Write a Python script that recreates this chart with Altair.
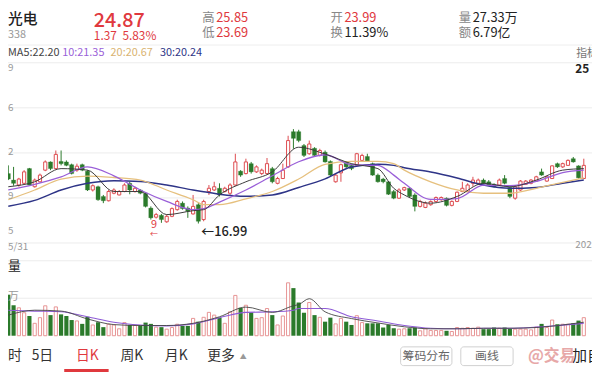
import altair as alt
import pandas as pd

FONT = "Noto Sans CJK SC"
RED = "#e0393e"
CANDLE_RED = "#dd4b4f"
GREEN = "#2b7a2b"
VOL_RED = "#e79393"

open_ = [19.91,19.53,19.24,19.34,20.20,19.14,19.43,20.11,20.59,20.20,
         20.62,20.59,20.43,20.11,20.43,20.05,18.95,19.14,18.57,18.32,
         18.76,18.66,18.86,19.34,18.86,18.95,18.76,17.89,17.36,17.47,
         17.09,17.41,17.80,18.18,17.89,17.55,18.09,17.22,18.86,18.95,
         19.05,18.86,18.76,19.24,20.05,19.91,20.49,20.01,19.91,19.91,
         20.20,19.34,19.62,20.30,22.36,22.36,21.55,21.07,21.39,20.97,
         21.16,20.62,19.43,19.95,20.55,20.39,20.39,20.68,20.91,20.49,
         19.82,19.59,19.43,18.86,18.47,18.95,19.05,18.66,17.99,17.93,
         18.09,18.28,18.38,18.47,18.05,18.28,18.86,18.86,19.34,19.34,
         19.53,19.43,19.28,19.24,19.62,19.09,18.47,18.95,19.28,19.34,
         19.47,20.01,19.47,19.62,20.49,20.30,20.39,20.78,20.36,19.62]
close = [19.59,19.34,19.59,20.01,19.24,19.53,19.82,20.59,20.20,21.03,
         20.49,20.39,19.91,20.34,20.11,18.95,19.20,18.38,18.32,18.86,
         18.95,18.86,19.24,18.95,19.05,18.76,17.99,17.32,17.51,17.22,
         17.41,17.86,18.28,17.86,17.70,17.99,17.12,18.28,19.05,19.14,
         18.66,19.05,19.24,20.59,19.82,20.59,20.01,20.30,20.11,20.49,
         19.43,19.62,20.11,21.84,21.97,21.84,20.97,21.64,20.97,21.26,
         20.59,19.82,19.82,20.43,20.30,20.20,21.07,20.97,20.62,19.82,
         19.43,19.43,18.70,18.47,18.95,19.09,18.57,17.99,18.28,18.18,
         18.28,18.51,18.51,18.05,18.28,18.82,19.05,19.24,19.53,19.53,
         19.34,19.24,19.14,19.53,19.34,18.57,19.14,19.47,19.47,19.53,
         19.72,19.82,19.72,20.36,20.30,20.49,20.68,20.59,19.66,20.39]
high = [20.39,20.30,19.66,20.11,20.24,19.62,19.91,20.68,20.62,21.26,
        21.26,20.68,20.49,20.49,20.49,20.11,19.28,19.20,18.66,18.95,
        19.05,18.95,19.34,19.43,19.14,19.00,18.82,17.99,17.61,17.55,
        17.51,17.93,18.38,18.28,17.99,18.66,18.18,18.38,19.24,19.43,
        19.34,19.14,19.34,21.07,20.11,20.78,20.59,20.39,20.20,20.82,
        20.30,19.72,20.49,22.12,22.51,22.47,21.64,21.84,21.45,21.36,
        21.26,20.68,19.91,20.49,20.62,20.49,21.12,21.07,21.07,20.55,
        19.91,19.66,19.47,18.95,19.05,19.14,19.11,18.76,18.38,18.28,
        18.34,18.57,18.57,18.51,18.34,18.86,19.43,19.34,19.72,19.62,
        19.62,19.53,19.34,19.62,19.82,19.14,19.24,19.53,19.53,19.59,
        19.78,20.20,19.78,20.39,20.55,20.55,20.74,20.88,20.39,20.78]
low = [19.53,19.20,19.14,19.28,19.20,19.09,19.38,20.05,20.11,20.16,
       20.39,20.34,19.86,20.01,20.05,18.89,18.86,18.32,18.18,18.28,
       18.70,18.63,18.82,18.70,18.80,18.70,17.93,17.22,17.28,17.03,
       17.03,17.36,17.74,17.80,17.32,17.51,16.99,17.12,18.66,18.89,
       18.57,18.80,18.66,19.20,19.72,19.86,19.91,19.95,19.82,19.86,
       19.34,19.28,19.59,20.24,21.36,21.74,20.88,21.01,20.88,20.91,
       20.55,19.72,19.38,19.43,20.24,20.11,20.34,20.62,20.59,19.78,
       19.38,19.34,18.66,18.41,18.43,18.89,18.51,17.70,17.93,17.89,
       18.03,18.24,18.32,17.99,17.99,18.24,18.82,18.82,19.14,19.28,
       19.28,19.20,19.09,19.20,19.28,18.47,18.38,18.89,19.24,19.28,
       19.43,19.78,19.43,19.59,20.24,20.24,20.36,20.55,19.62,19.59]
volume = [22.5,16.7,15.3,12.6,10.8,6.8,9.9,16.4,11.3,15.8,
          11.7,10.8,8.6,8.1,6.5,10.4,5.9,7.4,4.7,6.3,
          5.9,3.8,7.2,5.9,5.6,5.6,7.2,6.5,4.7,4.7,
          3.6,4.5,6.3,5.4,5.4,9.5,7.7,10.1,12.8,11.3,
          9.9,6.8,13.1,22.1,15.3,16.7,12.8,9.5,9.9,14.9,
          11.3,5.9,10.8,29.0,26.1,18.2,12.6,18.2,11.3,10.1,
          7.7,9.9,6.5,9.5,7.7,5.9,11.0,7.2,6.8,6.8,
          6.8,4.5,5.9,4.1,3.6,3.8,4.1,4.5,2.7,3.8,
          2.9,2.9,2.9,2.7,2.3,4.5,4.1,4.5,4.1,4.7,
          3.6,3.6,4.5,4.1,4.5,3.8,3.6,3.6,3.6,3.2,
          4.7,6.5,4.5,8.6,6.3,6.3,6.3,6.8,8.3,9.9]

ma_idx = [0,5,10,15,20,25,30,35,37,40,45,50,55,60,65,70,73,75,80,85,90,95,100,105,109]
ma5 = [19.14,19.43,20.20,20.11,18.86,18.86,17.51,17.74,17.80,18.66,19.43,20.01,21.45,21.05,20.49,20.20,19.05,18.66,18.18,18.57,19.34,19.14,19.53,20.11,20.20]
ma10 = [18.95,19.28,19.72,20.30,19.78,18.95,18.28,17.80,17.86,18.24,18.95,19.78,20.60,21.01,20.43,20.39,19.82,19.34,18.40,18.45,19.24,19.20,19.45,19.97,20.11]
ma20 = [18.38,18.95,19.59,19.76,19.68,19.53,18.95,18.38,18.10,18.09,18.43,18.86,19.59,20.45,20.62,20.62,20.49,20.11,19.43,18.95,18.76,18.76,19.05,19.40,19.66]
ma30 = [18.00,18.34,18.95,19.34,19.49,19.45,19.24,18.95,18.85,18.70,18.58,18.66,19.10,19.60,20.30,20.45,20.39,20.25,20.00,19.65,19.24,19.05,19.10,19.35,19.53]

vma5_idx = [0,5,10,15,20,25,30,35,40,45,50,54,55,57,60,65,70,75,80,85,90,95,100,105,109]
vma5 = [11.3,14.0,13.5,9.2,6.1,5.6,5.6,6.8,10.4,15.7,12.8,16.4,17.1,20.3,13.1,9.4,7.0,4.9,3.8,3.8,4.1,4.1,4.5,5.9,7.4]
vma10_idx = [0,5,10,15,20,25,30,35,40,45,50,54,55,60,65,70,75,80,85,90,95,100,105,109]
vma10 = [14.0,13.5,13.1,10.4,7.4,5.9,5.4,6.5,9.9,12.8,13.1,14.0,14.9,14.9,10.4,8.1,5.6,4.1,3.8,4.1,4.1,4.7,5.8,6.8]

price_grid = [26.39, 23.755, 21.12, 18.485, 15.85]
vol_grid = [20.55, 41.1]

# ---------------------------------------------------------------------------
N = len(open_)
df = pd.DataFrame({"i": list(range(N)), "o": open_, "c": close, "h": high, "l": low, "v": volume})
df["up"] = df["c"] >= df["o"]
up = df[df["up"]]
dn = df[~df["up"]]

W, H = 592, 367
xs = alt.Scale(domain=[0, 109], range=[-4.7, 588.7])
ys = alt.Scale(domain=[15.85, 26.39], range=[235.7, 53], zero=False, nice=False)
vs = alt.Scale(domain=[0, 41.1], range=[329.7, 253.7], zero=False, nice=False)

X = alt.X("i:Q", scale=xs, axis=None)

def PY(f):
    return alt.Y(f"{f}:Q", scale=ys, axis=None)

def VY(f):
    return alt.Y(f"{f}:Q", scale=vs, axis=None)

blank = pd.DataFrame({"a": [1]})

def txt(s, x, y, color="#222", size=12, weight=400, align="left", font=FONT):
    return alt.Chart(blank).mark_text(
        text=s, color=color, fontSize=size, fontWeight=weight, align=align,
        baseline="middle", font=font
    ).encode(x=alt.value(x - 8), y=alt.value(y - 8))

def hline(y, color="#efefef", x1=0, x2=600, w=1):
    return alt.Chart(blank).mark_rule(color=color, strokeWidth=w).encode(
        x=alt.value(x1 - 8), x2=alt.value(x2 - 8), y=alt.value(y - 8))

layers = []

# grid lines
layers.append(alt.Chart(pd.DataFrame({"p": price_grid})).mark_rule(color="#ececec", strokeWidth=1).encode(
    y=PY("p"), x=alt.value(0), x2=alt.value(W)))
layers.append(alt.Chart(pd.DataFrame({"g": vol_grid})).mark_rule(color="#ececec", strokeWidth=1).encode(
    y=VY("g"), x=alt.value(0), x2=alt.value(W)))
layers.append(hline(43, "#eeeeee"))

# wicks
layers.append(alt.Chart(up).mark_rule(color=CANDLE_RED, strokeWidth=1).encode(x=X, y=PY("h"), y2="l"))
layers.append(alt.Chart(dn).mark_rule(color=GREEN, strokeWidth=1).encode(x=X, y=PY("h"), y2="l"))
# bodies
layers.append(alt.Chart(up).mark_bar(size=3.2, fill="white", stroke=CANDLE_RED, strokeWidth=1).encode(
    x=X, y=PY("o"), y2="c"))
layers.append(alt.Chart(dn).mark_bar(size=4.2, fill=GREEN, stroke=GREEN, strokeWidth=0.3).encode(
    x=X, y=PY("o"), y2="c"))

# moving averages
ma_df = pd.DataFrame({"i": ma_idx, "m5": ma5, "m10": ma10, "m20": ma20, "m30": ma30})
for f, col, w in [("m30", "#2e3487", 1.5), ("m20", "#e6c07e", 1.3), ("m10", "#9a5fd8", 1.3), ("m5", "#3a3a3a", 1.0)]:
    layers.append(alt.Chart(ma_df).mark_line(color=col, strokeWidth=w, interpolate="monotone").encode(x=X, y=PY(f)))

# volume bars
layers.append(alt.Chart(up).mark_bar(size=3.2, fill="#fff", stroke=VOL_RED, strokeWidth=1).encode(
    x=X, y=VY("v"), y2=alt.datum(0)))
layers.append(alt.Chart(dn).mark_bar(size=4.2, fill=GREEN).encode(
    x=X, y=VY("v"), y2=alt.datum(0)))
vdf5 = pd.DataFrame({"i": vma5_idx, "m": vma5})
vdf10 = pd.DataFrame({"i": vma10_idx, "m": vma10})
layers.append(alt.Chart(vdf10).mark_line(color="#8e5bd6", strokeWidth=1.1, interpolate="monotone").encode(x=X, y=VY("m")))
layers.append(alt.Chart(vdf5).mark_line(color="#444444", strokeWidth=0.9, interpolate="monotone").encode(x=X, y=VY("m")))

# header
layers += [
    txt("光电", 8, 17, "#222", 15, 500),
    txt("338", 8, 33, "#999", 11),
    txt("24.87", 95, 18.5, RED, 20, 500),
    txt("1.37", 95, 34, RED, 12), txt("5.83%", 124, 34, RED, 12),
    txt("高", 205, 16, "#888", 12.5), txt("25.85", 219, 16, RED, 13),
    txt("低", 205, 31, "#888", 12.5), txt("23.69", 219, 31, RED, 13),
    txt("开", 335, 16, "#888", 12.5), txt("23.99", 349, 16, RED, 13),
    txt("换", 335, 31, "#888", 12.5), txt("11.39%", 349, 31, "#222", 13),
    txt("量", 465, 16, "#888", 12.5), txt("27.33万", 479, 16, "#222", 13),
    txt("额", 465, 31, "#888", 12.5), txt("6.79亿", 479, 31, "#222", 13),
    txt("MA5:22.20", 8, 51, "#444", 11),
    txt("10:21.35", 63, 51, "#9a5fd8", 11),
    txt("20:20.67", 112, 51, "#d9b36f", 11),
    txt("30:20.24", 162, 51, "#2e3487", 11),
    txt("指标", 584, 52, "#777", 11),
    txt("25", 583, 67, "#222", 12, 700),
    txt("9", 8, 66, "#999", 10), txt("6", 8, 107, "#999", 10), txt("2", 8, 151, "#999", 10),
    txt("9", 8, 196, "#999", 10), txt("5", 8, 232, "#999", 10),
    txt("5/31", 8, 248, "#999", 10),
    txt("202", 583, 246, "#999", 10),
    txt("←16.99", 204, 233, "#222", 13, 500),
    txt("9", 156, 225, RED, 11, align="center"),
    txt("←", 156, 236, RED, 8, align="center"),
    txt("量", 8, 267, "#222", 13),
    txt("万", 8, 298, "#999", 11),
    txt("时", 8, 358, "#333", 14),
    txt("5日", 32, 358, "#333", 14),
    txt("日K", 77, 358, RED, 14),
    txt("周K", 122, 358, "#333", 14),
    txt("月K", 167, 358, "#333", 14),
    txt("更多", 210, 358, "#333", 14),
    txt("▲", 243, 359, "#999", 7),
    hline(373, RED, 65, 110, 3),
]
# buttons
for x1, x2, label in [(406, 458, "筹码分布"), (467, 520, "画线")]:
    layers.append(alt.Chart(blank).mark_rect(fill="white", stroke="#cfcfcf", strokeWidth=1, cornerRadius=3).encode(
        x=alt.value(x1 - 8), x2=alt.value(x2 - 8), y=alt.value(349 - 8), y2=alt.value(368 - 8)))
    layers.append(txt(label, (x1 + x2) / 2, 358, "#666", 12, align="center"))
layers.append(txt("@交易", 535, 358, "#e7a8a8", 16, 700))
layers.append(txt("加自", 580, 358, "#222", 15))

chart = alt.layer(*layers).resolve_scale(y="independent").properties(
    width=W, height=H, autosize=alt.AutoSizeParams(type="none"), padding=0
).configure_view(strokeWidth=0)

chart.save("out.html", embed_options={"renderer": "svg", "actions": False})
